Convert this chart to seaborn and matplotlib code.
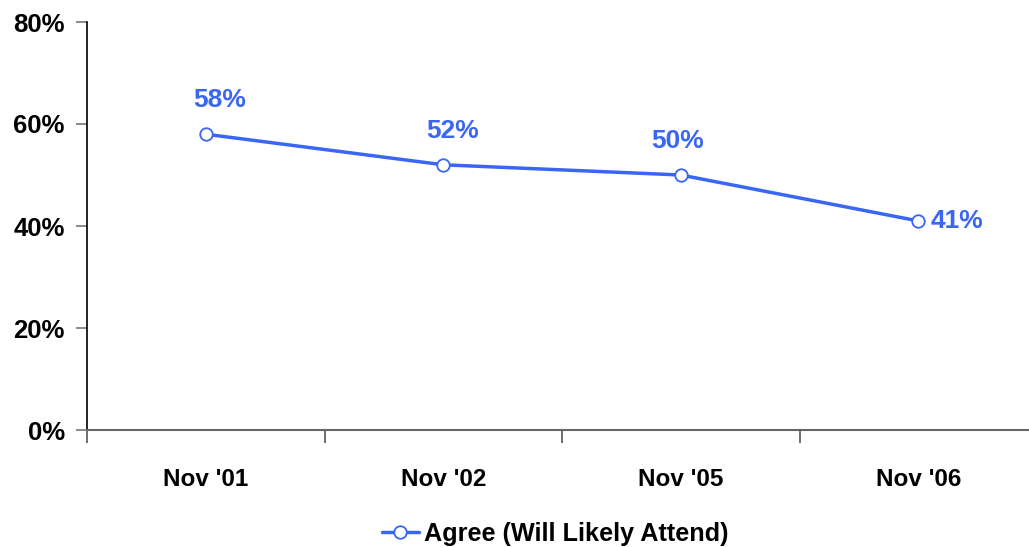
import matplotlib
matplotlib.use("Agg")
import matplotlib.pyplot as plt
import seaborn as sns
import pandas as pd
from matplotlib.ticker import FixedLocator, FuncFormatter

categories = ["Nov '01", "Nov '02", "Nov '05", "Nov '06"]
values = [58, 52, 50, 41]
series_name = "Agree (Will Likely Attend)"
yticks = [0, 20, 40, 60, 80]

sns.set_theme(style="white")
plt.rcParams['font.family'] = ['Liberation Sans', 'DejaVu Sans']
plt.rcParams['font.weight'] = 'bold'
plt.rcParams['text.color'] = 'black'

blue = "#3a66f5"
df = pd.DataFrame({"cat": categories, "val": values, "series": series_name})
df["x"] = range(len(categories))

W, H = 1029, 547
fig = plt.figure(figsize=(W / 100, H / 100), dpi=100)
ax = fig.add_axes([87 / W, 1 - 430 / H, (W - 87) / W, (430 - 22) / H])

sns.lineplot(data=df, x="x", y="val", hue="series", palette=[blue], ax=ax,
             marker="o", markersize=9, markerfacecolor="white",
             markeredgecolor=blue, markeredgewidth=1.3, linewidth=2.5)

ax.set_yticks(yticks)
ax.yaxis.set_major_formatter(FuncFormatter(lambda v, p: f"{int(v)}%"))
ax.xaxis.set_major_locator(FixedLocator(range(len(categories))))
ax.set_xticks([i + 0.5 for i in range(-1, len(categories))], minor=True)
ax.set_xticklabels(categories)
ax.set_xlim(-0.5, -0.5 + (W - 87) / 237.5)
ax.set_ylim(0, 80)
ax.tick_params(axis="x", which="major", length=0, pad=27, labelsize=17.5)
ax.tick_params(axis="x", which="minor", length=9, width=1.2, color="#555555", direction="out", bottom=True)
ax.tick_params(axis="y", length=8, width=1.2, color="#777777", direction="out", left=True, labelsize=18.5, pad=8)
for lab in ax.get_xticklabels() + ax.get_yticklabels():
    lab.set_fontweight("bold")
    lab.set_color("black")
ax.set_xlabel("")
ax.set_ylabel("")
for s in ["top", "right"]:
    ax.spines[s].set_visible(False)
ax.spines["left"].set_color("black")
ax.spines["left"].set_linewidth(1.2)
ax.spines["bottom"].set_color("#666666")
ax.spines["bottom"].set_linewidth(1.5)

offsets = [(10, 16), (7, 16), (-2, 16)]
for i, v in enumerate(values):
    if i == len(values) - 1:
        ax.annotate(f"{v}%", (i, v), xytext=(9, 0), textcoords="offset points",
                    ha="left", va="center", color=blue, fontsize=19, fontweight="bold")
    else:
        ax.annotate(f"{v}%", (i, v), xytext=offsets[i], textcoords="offset points",
                    ha="center", va="bottom", color=blue, fontsize=19, fontweight="bold")

ax.get_legend().remove()
handles, labels = ax.get_legend_handles_labels()
leg = fig.legend(handles, labels, loc="center", bbox_to_anchor=(555 / W, 1 - 534 / H), frameon=False,
                 prop={"size": 18.2, "weight": "bold"}, handlelength=1.45, handletextpad=0.2)
for t in leg.get_texts():
    t.set_color("black")

fig.savefig("out.png", dpi=100)
